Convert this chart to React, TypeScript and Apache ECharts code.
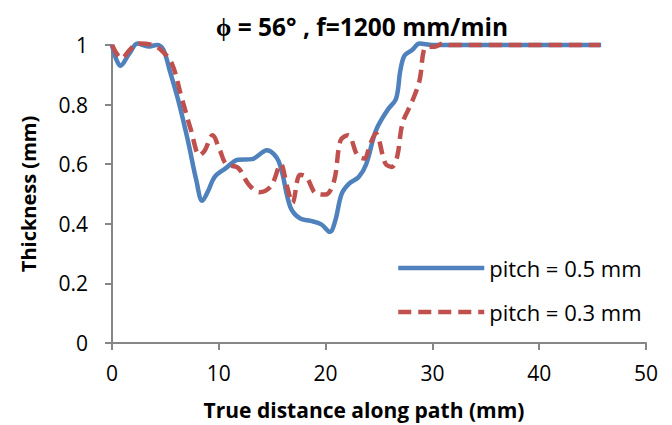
import React, { useEffect, useRef } from "react";
import * as echarts from "echarts";

const titleText = "ϕ = 56° , f=1200 mm/min";
const xAxisName = "True distance along path (mm)";
const yAxisName = "Thickness (mm)";
const seriesNames = ["pitch = 0.5 mm", "pitch = 0.3 mm"];

const blueX = [0, 0.8, 1.6, 2.4, 3.4, 4.2, 4.8, 5.4, 6.2, 7.1, 7.9, 8.45, 9.0, 9.6, 10.6, 11.8, 13.1, 14.5, 15.6, 16.7, 17.6, 18.6, 19.6, 20.4, 20.9, 21.5, 22.2, 23.1, 23.8, 24.7, 25.8, 26.6, 27.0, 27.4, 28.1, 28.8, 30.0, 35, 40, 45.8];
const blueY = [1.0, 0.93, 0.97, 1.005, 0.995, 1.0, 0.985, 0.915, 0.815, 0.68, 0.545, 0.477, 0.51, 0.557, 0.585, 0.615, 0.617, 0.647, 0.61, 0.456, 0.418, 0.41, 0.398, 0.373, 0.41, 0.5, 0.535, 0.557, 0.6, 0.712, 0.782, 0.82, 0.915, 0.965, 0.983, 1.005, 1.0, 1.0, 1.0, 1.0];

const redX = [0, 0.9, 1.7, 2.4, 3.8, 4.6, 5.6, 6.5, 7.4, 8.2, 8.7, 9.4, 10.1, 10.7, 11.8, 12.8, 13.8, 14.9, 15.8, 16.4, 16.9, 17.6, 18.2, 19.1, 20.0, 20.8, 21.4, 22.1, 23.0, 23.6, 24.2, 24.7, 25.6, 26.2, 26.7, 27.2, 28.1, 28.8, 29.2, 29.6, 30.2, 31.0, 31.6, 35, 40, 45.7];
const redY = [1.0, 0.955, 0.985, 1.005, 1.0, 0.983, 0.938, 0.826, 0.714, 0.63, 0.647, 0.697, 0.647, 0.6, 0.588, 0.532, 0.506, 0.527, 0.6, 0.524, 0.47, 0.565, 0.557, 0.502, 0.498, 0.545, 0.68, 0.697, 0.628, 0.619, 0.67, 0.703, 0.602, 0.591, 0.625, 0.737, 0.81, 0.882, 0.983, 0.994, 0.994, 1.005, 1.0, 1.0, 1.0, 1.0];

const FONT = "'Open Sans'";

export default function App() {
  const ref = useRef<HTMLDivElement>(null);
  useEffect(() => {
    document.body.style.margin = "0";
    if (!ref.current) return;
    const chart = echarts.init(ref.current, null, { renderer: "svg" });
    const axisColor = "#868686";
    chart.setOption({
      animation: false,
      backgroundColor: "#ffffff",
      textStyle: { fontFamily: FONT },
      grid: { left: 112, right: 26, top: 45, bottom: 82, containLabel: false },
      graphic: [
        {
          type: "text",
          x: 362,
          y: 26,
          style: {
            text: titleText,
            fontFamily: FONT,
            fontSize: 24.5,
            fontWeight: "bold",
            fill: "#000",
            textAlign: "center",
            textVerticalAlign: "middle",
          },
        },
        {
          type: "text",
          x: 364,
          y: 410,
          style: {
            text: xAxisName,
            fontFamily: FONT,
            fontSize: 21,
            fontWeight: "bold",
            fill: "#000",
            textAlign: "center",
            textVerticalAlign: "middle",
          },
        },
      ],
      legend: {
        orient: "vertical",
        left: 391,
        top: 252,
        itemWidth: 86,
        itemHeight: 20,
        itemGap: 22,
        itemStyle: { opacity: 0 },
        lineStyle: { width: 4.5 },
        textStyle: { fontFamily: FONT, fontSize: 22, color: "#000" },
        data: seriesNames,
      },
      xAxis: {
        type: "value",
        min: 0,
        max: 50,
        interval: 10,
        axisLine: { show: true, lineStyle: { color: axisColor, width: 2 } },
        axisTick: { show: true, length: 7, lineStyle: { color: axisColor, width: 2 } },
        axisLabel: { margin: 19, fontFamily: FONT, fontSize: 21, color: "#000" },
        splitLine: { show: false },
      },
      yAxis: {
        type: "value",
        min: 0,
        max: 1,
        interval: 0.2,
        name: yAxisName,
        nameLocation: "middle",
        nameGap: 74,
        nameTextStyle: { fontFamily: FONT, fontSize: 20, fontWeight: "bold", color: "#000" },
        axisLine: { show: true, lineStyle: { color: axisColor, width: 2 } },
        axisTick: { show: true, length: 7, lineStyle: { color: axisColor, width: 2 } },
        axisLabel: {
          margin: 24,
          fontFamily: FONT,
          fontSize: 21,
          color: "#000",
          formatter: (v: number) => (v === 0 || v === 1 ? String(v) : v.toFixed(1)),
        },
        splitLine: { show: false },
      },
      series: [
        {
          name: seriesNames[0],
          type: "line",
          data: blueX.map((x, i) => [x, blueY[i]]),
          smooth: 0.35,
          symbol: "none",
          clip: false,
          lineStyle: { color: "#4F81BD", width: 4.5 },
          itemStyle: { color: "#4F81BD" },
        },
        {
          name: seriesNames[1],
          type: "line",
          data: redX.map((x, i) => [x, redY[i]]),
          smooth: 0.35,
          symbol: "none",
          clip: false,
          lineStyle: { color: "#C0504D", width: 4.5, type: [13, 7] },
          itemStyle: { color: "#C0504D" },
        },
      ],
    });
    return () => chart.dispose();
  }, []);
  return <div ref={ref} style={{ width: 672, height: 425 }} />;
}
